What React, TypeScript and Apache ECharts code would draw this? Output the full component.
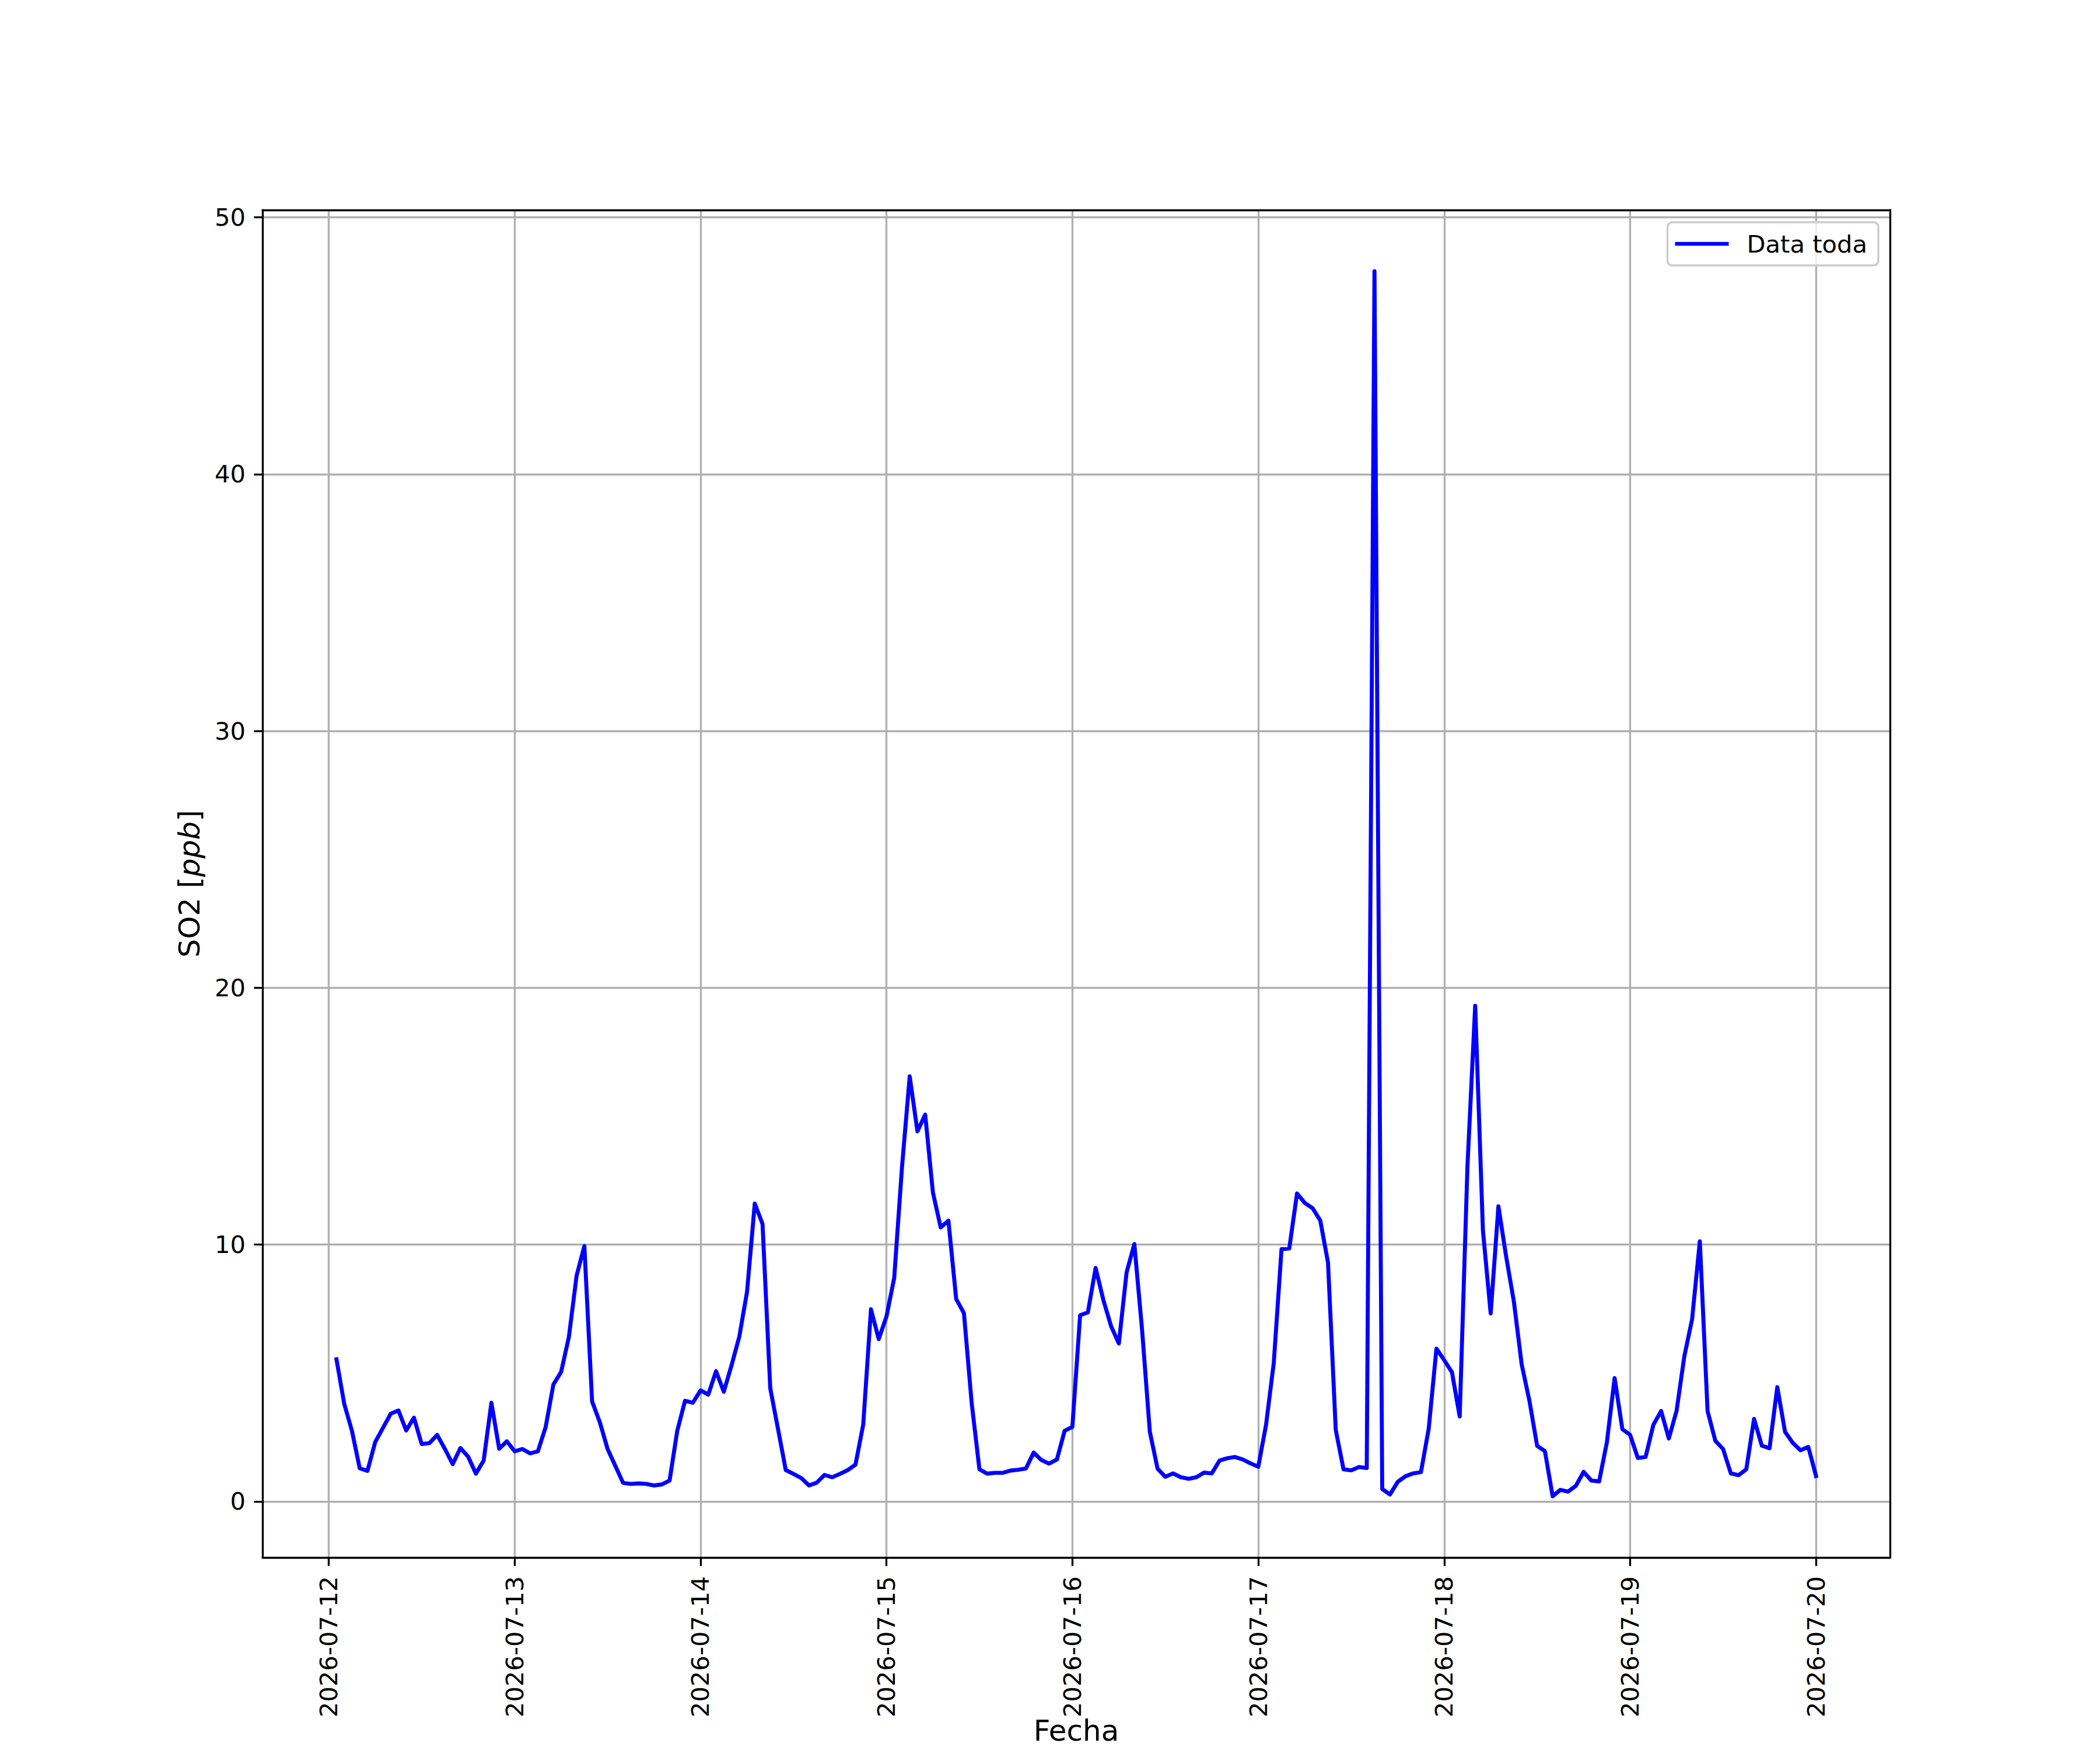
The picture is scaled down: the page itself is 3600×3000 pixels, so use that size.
import React, { useEffect, useRef } from 'react';
import * as echarts from 'echarts';

// Hourly SO2 readings [ppb], each array covers 01:00 .. 24:00 of that day
const START_TIME = '2026-07-12T01:00:00Z';
const SERIES_NAME = 'Data toda';

const so2Jul12 = [5.53, 3.8, 2.74, 1.29, 1.19, 2.31, 2.86, 3.41, 3.54, 2.76, 3.26, 2.23, 2.27, 2.59, 2.04, 1.45, 2.08, 1.74, 1.08, 1.59, 3.84, 2.05, 2.34, 1.95];
const so2Jul13 = [2.04, 1.87, 1.95, 2.89, 4.55, 5.04, 6.4, 8.79, 9.94, 3.89, 3.08, 2.04, 1.38, 0.72, 0.68, 0.7, 0.68, 0.62, 0.66, 0.81, 2.76, 3.92, 3.84, 4.32];
const so2Jul14 = [4.16, 5.07, 4.27, 5.3, 6.41, 8.16, 11.6, 10.8, 4.4, 2.82, 1.22, 1.07, 0.91, 0.62, 0.73, 1.03, 0.94, 1.07, 1.22, 1.43, 2.99, 7.48, 6.32, 7.2];
const so2Jul15 = [8.7, 13.0, 16.55, 14.41, 15.06, 12.02, 10.67, 10.93, 7.88, 7.33, 3.83, 1.25, 1.08, 1.11, 1.11, 1.2, 1.23, 1.28, 1.9, 1.61, 1.47, 1.63, 2.75, 2.9];
const so2Jul16 = [7.25, 7.36, 9.09, 7.84, 6.82, 6.15, 8.92, 10.02, 6.67, 2.71, 1.27, 0.96, 1.09, 0.94, 0.88, 0.94, 1.12, 1.09, 1.59, 1.68, 1.73, 1.63, 1.48, 1.35];
const so2Jul17 = [2.98, 5.4, 9.82, 9.85, 11.99, 11.62, 11.42, 10.94, 9.3, 2.78, 1.25, 1.21, 1.34, 1.3, 47.9, 0.48, 0.27, 0.76, 0.98, 1.09, 1.14, 2.83, 5.95, 5.5];
const so2Jul18 = [5.03, 3.31, 13.04, 19.3, 10.54, 7.32, 11.49, 9.53, 7.77, 5.34, 3.92, 2.16, 1.96, 0.2, 0.45, 0.38, 0.61, 1.15, 0.81, 0.78, 2.3, 4.8, 2.81, 2.59];
const so2Jul19 = [1.69, 1.73, 2.98, 3.52, 2.45, 3.53, 5.65, 7.09, 10.13, 3.52, 2.36, 2.04, 1.09, 1.02, 1.25, 3.21, 2.17, 2.07, 4.45, 2.71, 2.28, 1.99, 2.12, 0.99];

const xTickLabels = ['2026-07-12', '2026-07-13', '2026-07-14', '2026-07-15', '2026-07-16', '2026-07-17', '2026-07-18', '2026-07-19', '2026-07-20'];
const yTickValues = [0, 10, 20, 30, 40, 50];

const FONT = "'DejaVu Sans', sans-serif";
const PT = 300 / 72;

export default function App() {
  const ref = useRef<HTMLDivElement>(null);

  useEffect(() => {
    if (!ref.current) return;
    const chart = echarts.init(ref.current, null, { renderer: 'svg', width: 3600, height: 3000 });

    const values = [
      ...so2Jul12, ...so2Jul13, ...so2Jul14, ...so2Jul15,
      ...so2Jul16, ...so2Jul17, ...so2Jul18, ...so2Jul19,
    ];
    const t0 = Date.parse(START_TIME);
    const HOUR = 3600000;
    const data = values.map((v, i) => [t0 + i * HOUR, v]);
    const tMax = t0 + (values.length - 1) * HOUR;
    const xPad = (tMax - t0) * 0.05;
    const xMin = t0 - xPad;
    const xMax = tMax + xPad;
    const vMin = Math.min(...values);
    const vMax = Math.max(...values);
    const yPad = (vMax - vMin) * 0.05;
    const yMin = vMin - yPad;
    const yMax = vMax + yPad;

    const tickTimes = xTickLabels.map((s) => Date.parse(s + 'T00:00:00Z'));
    const labelFor = (v: number) => {
      const idx = tickTimes.findIndex((t) => Math.abs(t - v) < 1000);
      return idx >= 0 ? xTickLabels[idx] : '';
    };

    const spine = { color: '#000000', width: 0.8 * PT };
    const gridLine = { color: '#b0b0b0', width: 0.8 * PT };
    const tickFont = 10 * PT;
    const labelFont = 12 * PT;

    chart.setOption({
      animation: false,
      backgroundColor: '#ffffff',
      grid: {
        left: 450,
        right: 360,
        top: 360,
        bottom: 330,
        containLabel: false,
        outerBoundsMode: 'none',
      },
      legend: {
        show: true,
        data: [SERIES_NAME],
        right: 380,
        top: 381,
        orient: 'horizontal',
        icon: 'rect',
        itemWidth: 92,
        itemHeight: 1.6 * PT,
        itemStyle: { color: '#0000ff', borderWidth: 0 },
        textStyle: { fontSize: tickFont, fontFamily: FONT, color: '#000000', padding: [0, 0, 0, 26] },
        padding: [16, 19, 16, 13],
        backgroundColor: 'rgba(255,255,255,0.8)',
        borderColor: '#cccccc',
        borderWidth: 3.5,
        borderRadius: 8,
        selectedMode: false,
      },
      xAxis: [
        {
          type: 'value',
          position: 'bottom',
          min: xMin,
          max: xMax,
          scale: true,
          axisLine: { show: true, onZero: false, lineStyle: spine },
          axisTick: { show: true, inside: false, length: 3.5 * PT, lineStyle: spine, customValues: tickTimes },
          axisLabel: {
            show: true,
            customValues: tickTimes,
            rotate: 90,
            margin: 32,
            fontSize: tickFont,
            fontFamily: FONT,
            color: '#000000',
            hideOverlap: false,
            formatter: (v: number) => labelFor(v),
          },
          splitLine: { show: true, lineStyle: gridLine },
          name: 'Fecha',
          nameLocation: 'middle',
          nameGap: 272,
          nameMoveOverlap: false,
          nameTextStyle: { fontSize: labelFont, fontFamily: FONT, color: '#000000' },
        },
        {
          type: 'value',
          position: 'top',
          min: xMin,
          max: xMax,
          scale: true,
          axisLine: { show: true, onZero: false, lineStyle: spine },
          axisTick: { show: false },
          axisLabel: { show: false },
          splitLine: { show: false },
        },
      ],
      yAxis: [
        {
          type: 'value',
          position: 'left',
          min: yMin,
          max: yMax,
          axisLine: { show: true, onZero: false, lineStyle: spine },
          axisTick: { show: true, inside: false, length: 3.5 * PT, lineStyle: spine, customValues: yTickValues },
          axisLabel: {
            show: true,
            customValues: yTickValues,
            margin: 29,
            fontSize: tickFont,
            fontFamily: FONT,
            color: '#000000',
            formatter: (v: number) => String(v),
          },
          splitLine: { show: true, lineStyle: gridLine },
          name: '{a|SO2 [}{b|ppb}{a|]}',
          nameLocation: 'middle',
          nameRotate: 90,
          nameGap: 100,
          nameMoveOverlap: false,
          nameTextStyle: {
            fontSize: labelFont,
            fontFamily: FONT,
            color: '#000000',
            rich: {
              a: { fontSize: labelFont, fontFamily: FONT, color: '#000000' },
              b: { fontSize: labelFont, fontFamily: FONT, color: '#000000', fontStyle: 'italic' },
            },
          },
        },
        {
          type: 'value',
          position: 'right',
          min: yMin,
          max: yMax,
          axisLine: { show: true, onZero: false, lineStyle: spine },
          axisTick: { show: false },
          axisLabel: { show: false },
          splitLine: { show: false },
        },
      ],
      series: [
        {
          type: 'line',
          name: SERIES_NAME,
          xAxisIndex: 0,
          yAxisIndex: 0,
          data,
          showSymbol: false,
          symbol: 'none',
          clip: true,
          lineStyle: { color: '#0000ff', width: 1.65 * PT, join: 'round', cap: 'square' },
          itemStyle: { color: '#0000ff' },
          z: 3,
        },
      ],
    });

    return () => {
      chart.dispose();
    };
  }, []);

  return (
    <div
      ref={ref}
      style={{ position: 'absolute', left: 0, top: 0, width: 3600, height: 3000, background: '#ffffff' }}
    />
  );
}
